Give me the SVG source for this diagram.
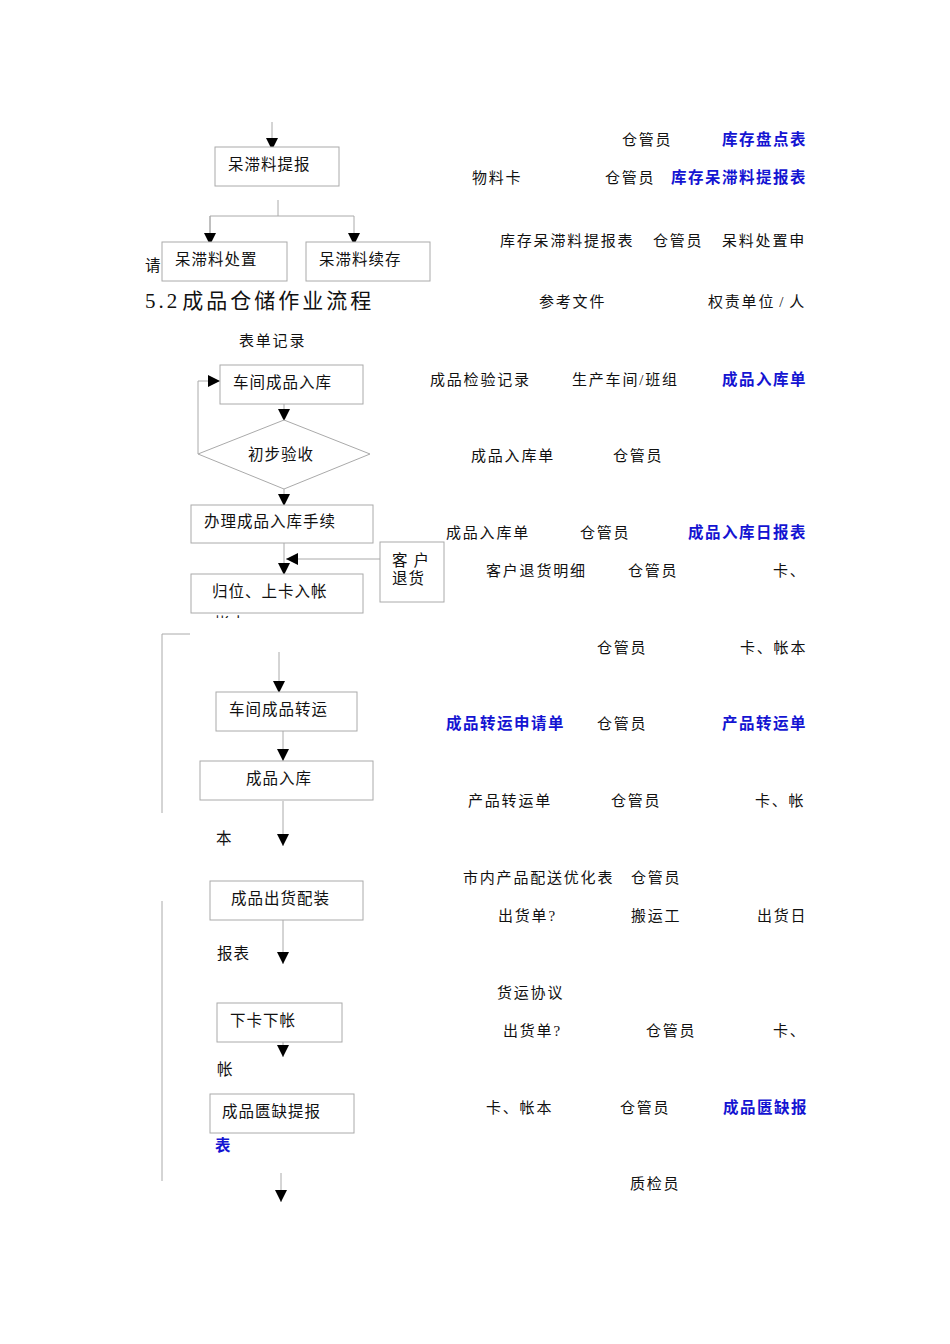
<svg xmlns="http://www.w3.org/2000/svg" width="950" height="1344" viewBox="0 0 950 1344">
<style>
text{font-family:"Liberation Serif","Noto Sans CJK SC",serif;font-size:15.5px;fill:#111;letter-spacing:1px}
.c{font-size:15px;letter-spacing:1.8px}
.b{fill:#1414d2;font-weight:bold;letter-spacing:1.5px}
.t{font-size:21px;letter-spacing:3px}
.box{fill:#fff;stroke:#aaa;stroke-width:1}
.ln{fill:none;stroke:#aaa;stroke-width:1}
</style>
<defs>
<marker id="ah" markerUnits="userSpaceOnUse" markerWidth="12" markerHeight="12" refX="10" refY="5" orient="auto" viewBox="0 0 10 10">
<path d="M0,0 L10,5 L0,10 z" fill="#000"/>
</marker>
<clipPath id="cut"><rect x="200" y="612" width="80" height="6"/></clipPath>
</defs>
<rect width="950" height="1344" fill="#fff"/>

<g id="connectors">
<line class="ln" x1="272" y1="122" x2="272" y2="150" marker-end="url(#ah)"/>
<polyline class="ln" points="278,200 278,216"/>
<polyline class="ln" points="210,245 210,216 354,216 354,245" marker-end="url(#ah)"/>
<line class="ln" x1="210" y1="216" x2="210" y2="245" marker-end="url(#ah)"/>
<polyline class="ln" points="198,454 198,381 220,381" marker-end="url(#ah)"/>
<line class="ln" x1="284" y1="404" x2="284" y2="421" marker-end="url(#ah)"/>
<line class="ln" x1="284" y1="489" x2="284" y2="506" marker-end="url(#ah)"/>
<line class="ln" x1="284" y1="543" x2="284" y2="575" marker-end="url(#ah)"/>
<line class="ln" x1="380" y1="559" x2="286" y2="559" marker-end="url(#ah)"/>
<polyline class="ln" points="190,634 162,634 162,813"/>
<line class="ln" x1="279" y1="652" x2="279" y2="693" marker-end="url(#ah)"/>
<line class="ln" x1="283" y1="731" x2="283" y2="761" marker-end="url(#ah)"/>
<line class="ln" x1="283" y1="801" x2="283" y2="846" marker-end="url(#ah)"/>
<line class="ln" x1="162" y1="901" x2="162" y2="1181"/>
<line class="ln" x1="283" y1="920" x2="283" y2="964" marker-end="url(#ah)"/>
<line class="ln" x1="283" y1="1042" x2="283" y2="1057" marker-end="url(#ah)"/>
<line class="ln" x1="281" y1="1173" x2="281" y2="1202" marker-end="url(#ah)"/>
</g>

<text x="145" y="271">请</text>
<text x="214" y="629" clip-path="url(#cut)">帐本</text>

<g id="n1"><rect class="box" x="215" y="147" width="124" height="39"/><text x="228" y="170">呆滞料提报</text></g>
<g id="n2"><rect class="box" x="162" y="242" width="125" height="39"/><text x="175" y="265">呆滞料处置</text></g>
<g id="n3"><rect class="box" x="306" y="242" width="124" height="39"/><text x="319" y="265">呆滞料续存</text></g>

<g id="n4"><rect class="box" x="220" y="365" width="143" height="39"/><text x="233" y="388">车间成品入库</text></g>
<g id="n5"><polygon class="box" points="284,420 370,454 284,489 198,454"/><text x="248" y="460">初步验收</text></g>
<g id="n6"><rect class="box" x="191" y="505" width="182" height="38"/><text x="204" y="527">办理成品入库手续</text></g>
<g id="n7"><rect class="box" x="380" y="542" width="64" height="60"/><text x="392" y="566">客 户</text><text x="392" y="584">退货</text></g>
<g id="n8"><rect class="box" x="191" y="574" width="172" height="39"/><text x="212" y="597">归位、上卡入帐</text></g>

<g id="n9"><rect class="box" x="216" y="692" width="141" height="39"/><text x="229" y="715">车间成品转运</text></g>
<g id="n10"><rect class="box" x="200" y="761" width="173" height="39"/><text x="246" y="784">成品入库</text></g>
<g id="n11"><rect class="box" x="210" y="881" width="153" height="39"/><text x="231" y="904">成品出货配装</text></g>
<g id="n12"><rect class="box" x="217" y="1003" width="125" height="39"/><text x="230" y="1026">下卡下帐</text></g>
<g id="n13"><rect class="box" x="210" y="1094" width="144" height="39"/><text x="222" y="1117">成品匮缺提报</text></g>

<text class="t" x="145" y="308">5.2<tspan dx="2">成品仓储作业流程</tspan></text>
<text class="c" x="239" y="346">表单记录</text>
<text x="216" y="844">本</text>
<text x="217" y="959">报表</text>
<text x="217" y="1075">帐</text>
<text class="b" x="215" y="1151">表</text>

<g id="labels">
<text class="c" x="622" y="145">仓管员</text><text class="b" x="722" y="145">库存盘点表</text>
<text class="c" x="472" y="183">物料卡</text><text class="c" x="605" y="183">仓管员</text><text class="b" x="671" y="183">库存呆滞料提报表</text>
<text class="c" x="500" y="246">库存呆滞料提报表</text><text class="c" x="653" y="246">仓管员</text><text class="c" x="722" y="246">呆料处置申</text>
<text class="c" x="539" y="307">参考文件</text><text class="c" x="708" y="307">权责单位<tspan dx="4">/</tspan><tspan dx="4">人</tspan></text>
<text class="c" x="430" y="385">成品检验记录</text><text class="c" x="572" y="385">生产车间/班组</text><text class="b" x="722" y="385">成品入库单</text>
<text class="c" x="471" y="461">成品入库单</text><text class="c" x="613" y="461">仓管员</text>
<text class="c" x="446" y="538">成品入库单</text><text class="c" x="580" y="538">仓管员</text><text class="b" x="688" y="538">成品入库日报表</text>
<text class="c" x="486" y="576">客户退货明细</text><text class="c" x="628" y="576">仓管员</text><text class="c" x="773" y="576">卡、</text>
<text class="c" x="597" y="653">仓管员</text><text class="c" x="740" y="653">卡、帐本</text>
<text class="b" x="446" y="729">成品转运申请单</text><text class="c" x="597" y="729">仓管员</text><text class="b" x="722" y="729">产品转运单</text>
<text class="c" x="468" y="806">产品转运单</text><text class="c" x="611" y="806">仓管员</text><text class="c" x="755" y="806">卡、帐</text>
<text class="c" x="463" y="883">市内产品配送优化表</text><text class="c" x="631" y="883">仓管员</text>
<text class="c" x="498" y="921">出货单?</text><text class="c" x="631" y="921">搬运工</text><text class="c" x="757" y="921">出货日</text>
<text class="c" x="497" y="998">货运协议</text>
<text class="c" x="503" y="1036">出货单?</text><text class="c" x="646" y="1036">仓管员</text><text class="c" x="773" y="1036">卡、</text>
<text class="c" x="486" y="1113">卡、帐本</text><text class="c" x="620" y="1113">仓管员</text><text class="b" x="723" y="1113">成品匮缺报</text>
<text class="c" x="630" y="1189">质检员</text>
</g>
</svg>
